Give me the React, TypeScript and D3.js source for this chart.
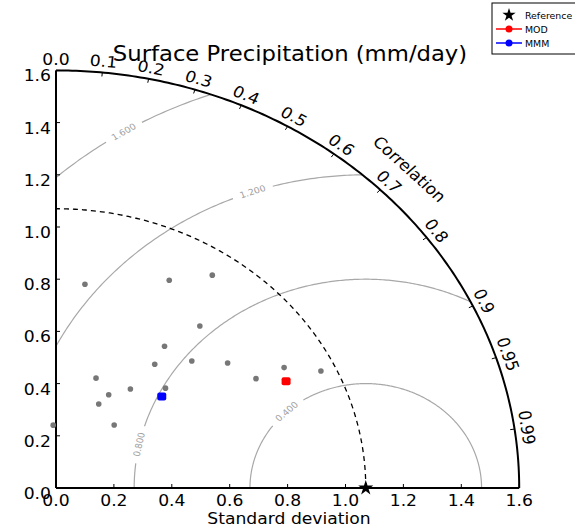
import React from 'react';
import * as d3 from 'd3';

// ---------- data ----------
const title = 'Surface Precipitation (mm/day)';
const xLabel = 'Standard deviation';
const corrLabel = 'Correlation';
const refStd = 1.07;
const modelStd = [0.787, 0.887, 0.978, 0.795, 0.66, 0.584, 0.676, 0.762, 0.913, 0.808, 1.019, 0.443, 0.401, 0.354, 0.458, 0.538, 0.314, 0.241];
const modelCorr = [0.127, 0.441, 0.552, 0.625, 0.568, 0.584, 0.694, 0.778, 0.863, 0.855, 0.898, 0.312, 0.454, 0.417, 0.561, 0.703, 0.64, -0.04];
const modStd = [0.894];
const modCorr = [0.889];
const mmmStd = [0.506];
const mmmCorr = [0.722];
const stdTicks = [0, 0.2, 0.4, 0.6, 0.8, 1.0, 1.2, 1.4, 1.6];
const corrTicks = [0, 0.1, 0.2, 0.3, 0.4, 0.5, 0.6, 0.7, 0.8, 0.9, 0.95, 0.99];
const rmsLevels = [0.4, 0.8, 1.2, 1.6];
const rmsLabelAngles = [133, 168, 109, 121.5];
const legendLabels = ['Reference', 'MOD', 'MMM'];
const legendColors = ['#000', '#ff0000', '#0000ff'];

const W = 575;
const H = 528;
const maxStd = 1.6;
const sx = d3.scaleLinear().domain([0, maxStd]).range([56, 519.2]);
const sy = d3.scaleLinear().domain([0, maxStd]).range([488, 70.4]);
const K = (sx(maxStd) - sx(0)) / (sy(0) - sy(maxStd));
const FONT = 'DejaVu Sans, Verdana, sans-serif';
const rad = Math.PI / 180;

const P = (x: number, y: number): [number, number] => [sx(x), sy(y)];
const polar = (r: number, thDeg: number) => P(r * Math.cos(thDeg * rad), r * Math.sin(thDeg * rad));
const fromStdCorr = (s: number, c: number) => P(s * c, s * Math.sqrt(Math.max(0, 1 - c * c)));
const line = d3.line<[number, number]>();

function arcPts(r: number, a0: number, a1: number, cx = 0): [number, number][] {
  const n = Math.max(8, Math.ceil(Math.abs(a1 - a0) / 0.5));
  return d3.range(n + 1).map((i) => {
    const a = (a0 + ((a1 - a0) * i) / n) * rad;
    return P(cx + r * Math.cos(a), r * Math.sin(a));
  });
}

function Txt(props: { x: number; y: number; rot?: number; size: number; anchor?: string; baseline?: string; fill?: string; children: any }) {
  const { x, y, rot = 0, size, anchor = 'middle', baseline = 'auto', fill = '#000', children } = props;
  return (
    <text
      transform={`translate(${x},${y}) scale(${K},1) rotate(${rot})`}
      fontSize={size}
      fontFamily={FONT}
      textAnchor={anchor}
      dominantBaseline={baseline}
      fill={fill}
    >
      {children}
    </text>
  );
}

export default function App() {
  const outer = line(arcPts(maxStd, 0, 90));
  const quadrant = line([[sx(0), sy(0)], ...arcPts(maxStd, 0, 90)]) + 'Z';
  const dashed = line(arcPts(refStd, 0, 90));

  const contours = rmsLevels.map((R, i) => {
    const la = rmsLabelAngles[i];
    const gapPx = 40;
    const g = gapPx / (R * 275) / rad;
    const segs = [arcPts(R, 0, la - g / 2, refStd), arcPts(R, la + g / 2, 180, refStd)];
    const [lx, ly] = P(refStd + R * Math.cos(la * rad), R * Math.sin(la * rad));
    let rot = Math.atan2(-Math.cos(la * rad), -Math.sin(la * rad)) / rad;
    if (rot > 90) rot -= 180;
    if (rot < -90) rot += 180;
    return { R, segs, lx, ly, rot };
  });

  const [rx, ry] = P(refStd, 0);
  const star = d3.symbol().type(d3.symbolStar).size(70)();
  const starSmall = d3.symbol().type(d3.symbolStar).size(55)();

  return (
    <svg width={W} height={H} style={{ display: 'block', position: 'absolute', left: 0, top: 0 }}>
      <rect width={W} height={H} fill="#fff" />
      <defs>
        <clipPath id="quad">
          <path d={quadrant} />
        </clipPath>
      </defs>

      {/* RMS contours */}
      <g clipPath="url(#quad)">
        {contours.map((c, i) =>
          c.segs.map((s, j) => (
            <path key={`c${i}-${j}`} d={line(s) || ''} fill="none" stroke="#a8a8a8" strokeWidth={1.2} />
          ))
        )}
      </g>
      {contours.map((c, i) => (
        <Txt key={`cl${i}`} x={c.lx} y={c.ly} rot={c.rot} size={8.5} baseline="central" fill="#a0a0a0">
          {c.R.toFixed(3)}
        </Txt>
      ))}

      {/* reference std dashed arc */}
      <path d={dashed || ''} fill="none" stroke="#000" strokeWidth={1.3} strokeDasharray="5,4" />

      {/* axes */}
      <path d={outer || ''} fill="none" stroke="#000" strokeWidth={2} />
      <line x1={sx(0)} y1={sy(0)} x2={sx(maxStd)} y2={sy(0)} stroke="#000" strokeWidth={2} />
      <line x1={sx(0)} y1={sy(0)} x2={sx(0)} y2={sy(maxStd)} stroke="#000" strokeWidth={2} />

      {/* std ticks */}
      {stdTicks.map((v) => (
        <g key={`xt${v}`}>
          <line x1={sx(v)} x2={sx(v)} y1={sy(0)} y2={sy(0) - 4} stroke="#000" strokeWidth={1} />
          <Txt x={sx(v)} y={506} size={15.5}>{v.toFixed(1)}</Txt>
        </g>
      ))}
      {stdTicks.map((v) => (
        <g key={`yt${v}`}>
          <line x1={sx(0)} x2={sx(0) + 4} y1={sy(v)} y2={sy(v)} stroke="#000" strokeWidth={1} />
          <Txt x={51} y={sy(v) + 11} size={15.5} anchor="end">{v.toFixed(1)}</Txt>
        </g>
      ))}

      {/* correlation ticks */}
      {corrTicks.map((c) => {
        const th = Math.acos(c) / rad;
        const [ax, ay] = polar(maxStd, th);
        const [bx, by] = polar(maxStd - 4 / 261, th);
        const [lx, ly] = polar(maxStd + 11 / 261, th);
        return (
          <g key={`ct${c}`}>
            <line x1={ax} y1={ay} x2={bx} y2={by} stroke="#000" strokeWidth={1} />
            <Txt x={lx} y={ly} rot={90 - th} size={15.5} baseline="central">{String(c === 0 ? '0.0' : c)}</Txt>
          </g>
        );
      })}
      {(() => {
        const [lx, ly] = polar(maxStd + 33 / 261, 45);
        return <Txt x={lx} y={ly} rot={45} size={15.5} baseline="central">{corrLabel}</Txt>;
      })()}

      {/* model points */}
      {modelStd.map((s, i) => {
        const [px, py] = fromStdCorr(s, modelCorr[i]);
        return <circle key={`m${i}`} cx={px} cy={py} r={2.8} fill="#777" />;
      })}
      {modStd.map((s, i) => {
        const [px, py] = fromStdCorr(s, modCorr[i]);
        return <rect key={`mod${i}`} x={px - 4.5} y={py - 4} width={9} height={8} rx={2} fill="#ff0000" />;
      })}
      {mmmStd.map((s, i) => {
        const [px, py] = fromStdCorr(s, mmmCorr[i]);
        return <rect key={`mmm${i}`} x={px - 4.5} y={py - 4} width={9} height={8} rx={2} fill="#0000ff" />;
      })}

      {/* reference star */}
      <path d={star || ''} transform={`translate(${rx},${ry})`} fill="#000" />

      {/* title & axis label */}
      <Txt x={290} y={61} size={20.5}>{title}</Txt>
      <Txt x={289} y={524} size={15.5}>{xLabel}</Txt>

      {/* legend */}
      <g>
        <rect x={492} y={3} width={95} height={51} fill="#fff" stroke="#000" strokeWidth={1} />
        {legendLabels.map((lab, i) => {
          const yy = 15 + i * 14;
          return (
            <g key={lab}>
              {i === 0 ? (
                <path d={starSmall || ''} transform={`translate(509,${yy})`} fill="#000" />
              ) : (
                <>
                  <line x1={496} x2={522} y1={yy} y2={yy} stroke={legendColors[i]} strokeWidth={1.5} />
                  <circle cx={509} cy={yy} r={3.5} fill={legendColors[i]} />
                </>
              )}
              <text x={525} y={yy} fontSize={9.4} fontFamily={FONT} dominantBaseline="central">{lab}</text>
            </g>
          );
        })}
      </g>
    </svg>
  );
}
